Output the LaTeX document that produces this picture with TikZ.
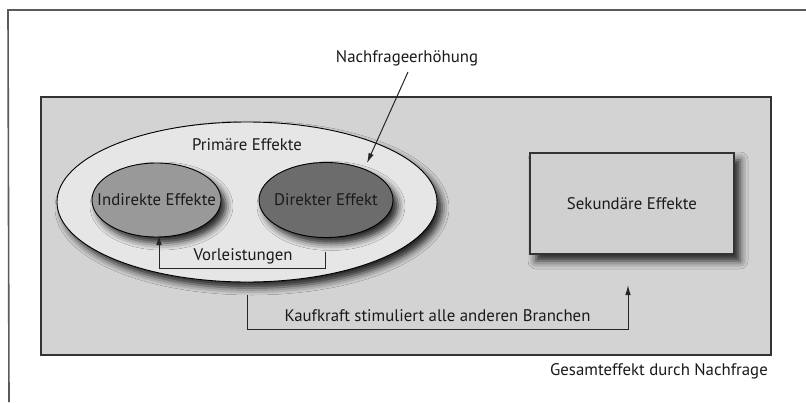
\documentclass[tikz,border=0pt]{standalone}
\usepackage{fontspec}
\setmainfont{PT Sans}
\usetikzlibrary{shapes.geometric,shadows.blur,arrows.meta}
\definecolor{bgrect}{HTML}{D3D3D3}
\definecolor{bigell}{HTML}{E6E6E6}
\definecolor{indell}{HTML}{999999}
\definecolor{direll}{HTML}{6C6C6C}
\definecolor{sekbox}{HTML}{D0D0D0}
\definecolor{txt}{HTML}{1A1A1A}
\definecolor{frame}{HTML}{5A5A5A}
\begin{document}
\begin{tikzpicture}[x=1pt,y=-1pt,
  lbl/.style={font=\fontsize{16.8}{19}\selectfont, text=txt, inner sep=0pt},
  ell/.style={ellipse, draw=black, line width=0.9pt, inner sep=0pt,
    blur shadow={shadow xshift=5pt, shadow yshift=-6pt, shadow blur radius=7pt, shadow opacity=85}},
  conn/.style={draw=black!85, line width=1pt},
  tip/.style={-{Latex[length=10pt,width=5.5pt]}}
]
\useasboundingbox (0,0) rectangle (806,402);
\fill[white] (0,0) rectangle (806,402);
% partial frame
\coordinate (fa) at (8,10);
\coordinate (fb) at (806,10);
\coordinate (fc) at (9,402);
\draw[frame, line width=1.6pt] (fb) -- (fa) -- (fc);
% outer rectangle
\node[draw=black!80, line width=1.1pt, fill=bgrect, minimum width=730pt, minimum height=258pt, inner sep=0pt] (outer) at (406,226) {};
% big ellipse
\node[ell, fill=bigell, minimum width=380pt, minimum height=160pt] (prim) at (247,202) {};
\node[lbl] (primlbl) at (247,145) {Primäre Effekte};
% inner ellipses
\node[ell, fill=indell, minimum width=129pt, minimum height=74pt] (ind) at (156.5,200) {};
\node[lbl] at (ind.center) {Indirekte Effekte};
\node[ell, fill=direll, minimum width=134pt, minimum height=75pt] (dir) at (326,200) {};
\node[lbl] at (dir.center) {Direkter Effekt};
% secondary box
\node[draw=black!80, line width=1.1pt, fill=sekbox, minimum width=204pt, minimum height=101pt, inner sep=0pt,
  blur shadow={shadow xshift=6pt, shadow yshift=-7pt, shadow blur radius=8pt, shadow opacity=85}] (sek) at (632,203.5) {};
\node[lbl] at (sek.center) {Sekundäre Effekte};
% Vorleistungen connector
\coordinate (v1) at (325,252);
\coordinate (v2) at (159,235);
\draw[conn, tip] (v1) -- (325,268) -| (v2);
\node[lbl] (vorl) at (243,256) {Vorleistungen};
% Kaufkraft connector
\coordinate (k1) at (247,295);
\coordinate (k2) at (628,285);
\draw[conn, tip] (k1) -- (247,329) -| (k2);
\node[lbl] (kauf) at (437.5,316) {Kaufkraft stimuliert alle anderen Branchen};
% Nachfrageerhoehung
\node[lbl] (nach) at (407,58) {Nachfrageerhöhung};
\coordinate (n1) at (408,72);
\coordinate (n2) at (367,163);
\draw[conn, tip] (n1) -- (n2);
% Gesamteffekt
\node[lbl, anchor=east] (ges) at (768,371) {Gesamteffekt durch Nachfrage};
\end{tikzpicture}
\end{document}
